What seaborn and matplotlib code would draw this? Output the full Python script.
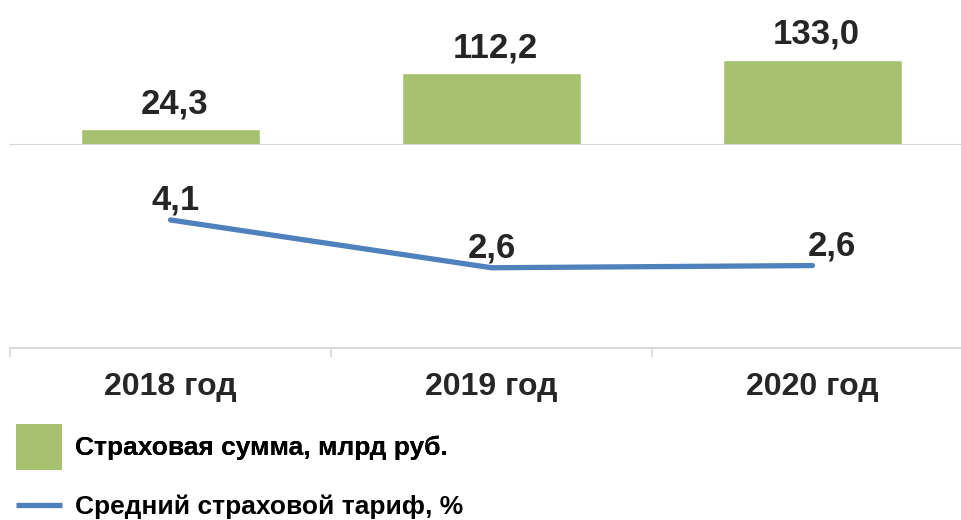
import numpy as np
import pandas as pd
import matplotlib
matplotlib.use('Agg')
import matplotlib.pyplot as plt
import seaborn as sns
from matplotlib.patches import Patch
from matplotlib.lines import Line2D

years = ['2018 год', '2019 год', '2020 год']
insured_sum = [24.3, 112.2, 133.0]
avg_rate = [4.1, 2.57, 2.64]
sum_label = 'Страховая сумма, млрд руб.'
rate_label = 'Средний страховой тариф, %'

GREEN = '#a6c270'
BLUE = '#4f81bd'
GRID = '#d9d9d9'
TEXT = '#262626'

sns.set_theme(style='white')
plt.rcParams['font.family'] = ['Liberation Sans', 'DejaVu Sans']


def fmt(v):
    """ number with comma decimal separator """
    return f'{v:.1f}'.replace('.', ',')


df = pd.DataFrame({'year': years, 'sum': insured_sum, 'rate': avg_rate})

W, H = 961, 520
fig = plt.figure(figsize=(W / 100, H / 100), dpi=100)

# top panel: bars above the grey separator
ax_top = fig.add_axes([10 / W, (H - 145) / H, 963 / W, 145 / H])
sns.barplot(data=df, x='year', y='sum', color=GREEN, width=0.555,
            saturation=1, ax=ax_top)
ax_top.set_xlim(-0.5, 2.5)
ax_top.set_ylim(0, 226.6)
ax_top.axis('off')
ax_top.axhline(0, color=GRID, lw=1.5, clip_on=False)
for i, v in enumerate(insured_sum):
    ax_top.annotate(fmt(v), (i, v), xytext=(3, 11.5), textcoords='offset points',
                    ha='center', va='baseline', fontsize=25, fontweight='bold',
                    color=TEXT, annotation_clip=False)

# bottom panel: line for the average rate
ax_bot = fig.add_axes([10 / W, 172 / H, 963 / W, 203 / H])
sns.lineplot(data=df, x='year', y='rate', color=BLUE, lw=3.8,
             solid_capstyle='round', ax=ax_bot)
ax_bot.set_xlim(-0.5, 2.5)
ax_bot.set_ylim(0, 6.5)
for side in ['top', 'left', 'right']:
    ax_bot.spines[side].set_visible(False)
ax_bot.spines['bottom'].set_color(GRID)
ax_bot.spines['bottom'].set_linewidth(1.5)
ax_bot.set_yticks([])
ax_bot.set_xlabel('')
ax_bot.set_ylabel('')
ax_bot.set_xticks([0, 1, 2])
ax_bot.set_xticklabels(years, fontsize=23, fontweight='bold', color=TEXT)
ax_bot.set_xticks([-0.5, 0.5, 1.5, 2.5], minor=True)
ax_bot.tick_params(axis='x', which='major', length=0, pad=17)
ax_bot.tick_params(axis='x', which='minor', length=6.5, width=1.2,
                   color=GRID, direction='out', bottom=True)
label_dx = [4, 0, 14]
for i, v in enumerate(avg_rate):
    ax_bot.annotate(fmt(v), (i, v), xytext=(label_dx[i], 7.5),
                    textcoords='offset points', ha='center', va='baseline',
                    fontsize=25, fontweight='bold', color=TEXT)

# legend at the bottom left, one entry per row
leg_kw = dict(frameon=False, prop={'size': 19, 'weight': 'bold'},
              labelcolor='black', handlelength=1.74, handletextpad=0.5,
              borderpad=0, borderaxespad=0)
leg1 = fig.legend([Patch(facecolor=GREEN, edgecolor='none')], [sum_label],
                  loc='center left', bbox_to_anchor=(16 / W, 1 - 447 / H),
                  handleheight=2.25, **leg_kw)
fig.add_artist(leg1)
fig.legend([Line2D([0], [0], color=BLUE, lw=3.8, solid_capstyle='butt')],
           [rate_label], loc='center left', bbox_to_anchor=(16 / W, 1 - 507 / H),
           handleheight=0.7, **leg_kw)

plt.savefig('out.png', dpi=100)
